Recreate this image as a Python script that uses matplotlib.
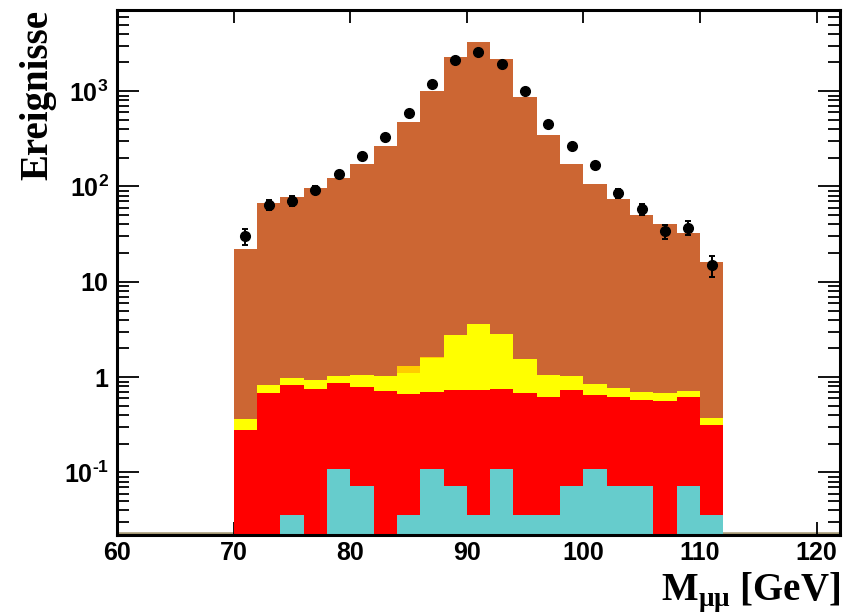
import numpy as np
import matplotlib
matplotlib.use("Agg")
import matplotlib.pyplot as plt
from matplotlib.ticker import FixedLocator, FixedFormatter, LogLocator, NullFormatter

plt.rcParams['mathtext.fontset'] = 'custom'
plt.rcParams['mathtext.rm'] = 'Liberation Sans:bold'
plt.rcParams['mathtext.bf'] = 'Liberation Sans:bold'

# Dimuon invariant mass, 2 GeV bins from 70 to 112 GeV
bin_edges = np.arange(70, 114, 2)

# Background contributions per bin (stacked bottom to top)
bkg_cyan = [0, 0, 0.036, 0, 0.108, 0.072, 0, 0.036, 0.108, 0.072, 0.036,
            0.108, 0.036, 0.036, 0.072, 0.108, 0.072, 0.072, 0, 0.072, 0.036]
bkg_red = [0.28, 0.69, 0.79, 0.76, 0.76, 0.72, 0.72, 0.63, 0.59, 0.66, 0.70,
           0.64, 0.64, 0.59, 0.67, 0.54, 0.55, 0.50, 0.56, 0.54, 0.28]
bkg_yellow = [0.08, 0.14, 0.16, 0.17, 0.17, 0.26, 0.31, 0.44, 0.90, 2.04, 2.89,
              2.09, 0.87, 0.43, 0.29, 0.20, 0.15, 0.13, 0.13, 0.11, 0.055]
bkg_gold = [0, 0, 0, 0, 0, 0, 0, 0.20, 0.04, 0, 0,
            0, 0, 0, 0, 0, 0, 0, 0, 0, 0]
# Z -> mumu signal
sig_zmumu = [21.9, 67.0, 76.2, 95.1, 123, 172, 264, 472, 1012, 2271, 3264,
             2180, 869, 349, 170.5, 105.6, 73.3, 50.0, 39.5, 31.9, 15.6]

# Observed events per bin
data_counts = [30, 64, 71, 92, 135, 211, 331, 596, 1183, 2115, 2585,
               1932, 1000, 454, 265, 167, 85, 58, 34, 37, 15]

# Axis ticks
x_ticks = [60, 70, 80, 90, 100, 110, 120]
y_ticks = [0.1, 1, 10, 100, 1000]
y_tick_labels = [r'$\mathbf{10^{\text{-}1}}$', '1', '10',
                 r'$\mathbf{10^{2}}$', r'$\mathbf{10^{3}}$']

layers = [
    (bkg_cyan, '#66CCCC'),
    (bkg_red, '#FF0000'),
    (bkg_yellow, '#FFFF00'),
    (bkg_gold, '#FFCC00'),
    (sig_zmumu, '#CC6633'),
]

fig = plt.figure(figsize=(8.46, 6.14), dpi=100)
ax = fig.add_axes([0.1383, 0.1287, 0.8546, 0.855])
ax.set_yscale('log', nonpositive='clip')

widths = np.diff(bin_edges)
left = bin_edges[:-1]
bottom = np.zeros(len(left))
for vals, col in layers:
    vals = np.asarray(vals, dtype=float)
    ax.bar(left, vals, width=widths, bottom=bottom, align='edge',
           color=col, linewidth=0, zorder=2)
    bottom = bottom + vals

# Empty histogram line along the floor
ax.axhline(0.0221, color='#A89C78', lw=4.0, zorder=1.5)

centers = 0.5 * (bin_edges[:-1] + bin_edges[1:])
d = np.asarray(data_counts, dtype=float)
err = np.sqrt(d)
ax.errorbar(centers, d, yerr=err, fmt='o', color='black', ms=7,
            elinewidth=1.4, capsize=2.5, capthick=1.4, zorder=5)

ax.set_xlim(60, 122)
ax.set_ylim(0.0221, 7100)

ax.xaxis.set_major_locator(FixedLocator(x_ticks))
ax.yaxis.set_major_locator(FixedLocator(y_ticks))
ax.yaxis.set_major_formatter(FixedFormatter(y_tick_labels))
ax.yaxis.set_minor_locator(LogLocator(base=10, subs=np.arange(2, 10)))
ax.yaxis.set_minor_formatter(NullFormatter())

for lab in ax.get_xticklabels() + ax.get_yticklabels():
    lab.set_fontfamily('Liberation Sans')
    lab.set_fontweight('bold')
    lab.set_fontsize(18)

ax.tick_params(axis='x', which='major', direction='in', length=9.5, width=1.3,
               top=True, bottom=True, pad=4)
ax.tick_params(axis='y', which='major', direction='in', length=16, width=1.3,
               left=True, right=True, pad=6)
ax.tick_params(axis='y', which='minor', direction='in', length=8.5, width=1.3,
               left=True, right=True)
for sp in ax.spines.values():
    sp.set_linewidth(2.2)
    sp.set_zorder(6)

ax.set_ylabel('Ereignisse', fontfamily='Liberation Serif', fontweight='bold',
              fontsize=28, loc='top', labelpad=5)
ax.set_xlabel(r'M$_{\mathregular{\mu\mu}}$ [GeV]', fontfamily='Liberation Serif',
              fontweight='bold', fontsize=28, loc='right', labelpad=4)

fig.savefig('out.png', dpi=100)
